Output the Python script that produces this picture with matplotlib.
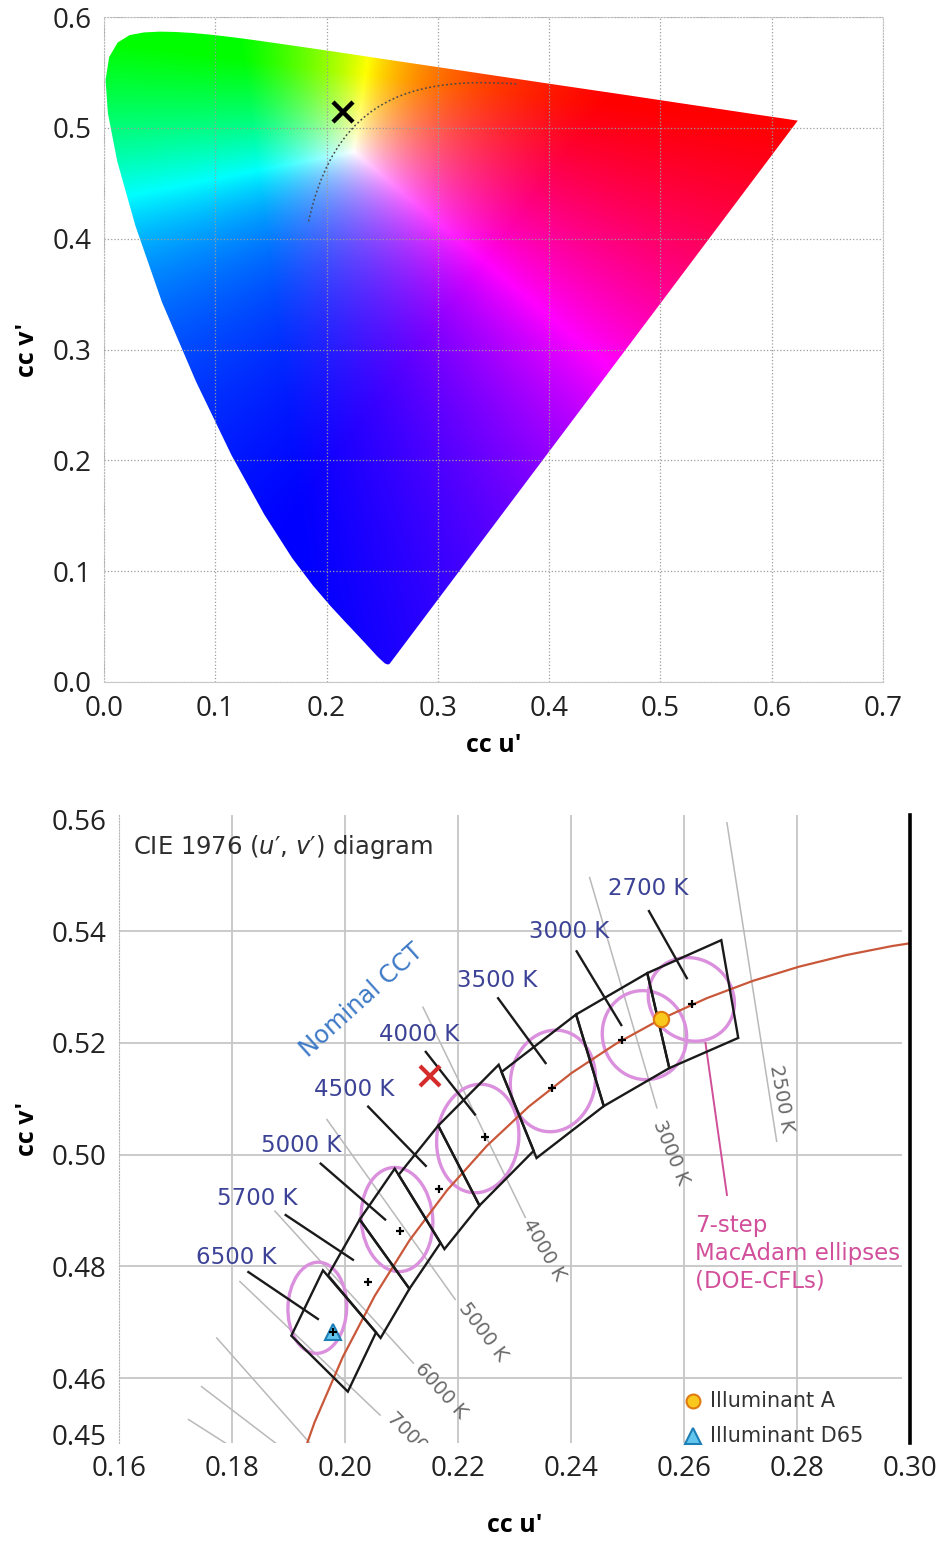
import numpy as np
import matplotlib
matplotlib.use('Agg')
import matplotlib.pyplot as plt
from matplotlib.patches import Polygon, Ellipse

# ---------------- data ----------------
# spectral locus in CIE 1976 u'v' (380 -> 700 nm)
locus_u = [0.2568, 0.2557, 0.2545, 0.2522, 0.2461, 0.2347, 0.2266, 0.2161, 0.2033,
           0.1877, 0.1690, 0.1441, 0.1147, 0.0828, 0.0521, 0.0282, 0.0119, 0.0035,
           0.0014, 0.0046, 0.0123, 0.0231, 0.0360, 0.0501, 0.0643, 0.0792, 0.0953,
           0.1127, 0.1319, 0.1531, 0.1766, 0.2026, 0.2312, 0.2623, 0.2960, 0.3315,
           0.3681, 0.4035, 0.4692, 0.5203, 0.5565, 0.5830, 0.6005, 0.6109, 0.6199, 0.6234]
locus_v = [0.0166, 0.0159, 0.0159, 0.0169, 0.0226, 0.0350, 0.0437, 0.0549, 0.0688,
           0.0871, 0.1119, 0.1510, 0.2044, 0.2708, 0.3427, 0.4117, 0.4698, 0.5131,
           0.5432, 0.5638, 0.5770, 0.5837, 0.5861, 0.5868, 0.5865, 0.5856, 0.5841,
           0.5821, 0.5796, 0.5766, 0.5732, 0.5694, 0.5651, 0.5604, 0.5554, 0.5501,
           0.5446, 0.5393, 0.5296, 0.5219, 0.5165, 0.5125, 0.5099, 0.5084, 0.5070, 0.5065]

# Planckian locus (20000 K -> 1400 K)
planck_u = [0.18388, 0.18494, 0.18611, 0.18740, 0.18880, 0.19032, 0.19462, 0.19962,
            0.20525, 0.21142, 0.21807, 0.22511, 0.23247, 0.24010, 0.24792, 0.25591,
            0.26400, 0.27218, 0.28039, 0.28863, 0.29685, 0.30505, 0.31320, 0.32129,
            0.32931, 0.33724, 0.34514, 0.35800, 0.37230]
planck_v = [0.41564, 0.42032, 0.42513, 0.43002, 0.43496, 0.43989, 0.45212, 0.46382,
            0.47471, 0.48468, 0.49364, 0.50159, 0.50856, 0.51462, 0.51983, 0.52427,
            0.52800, 0.53111, 0.53366, 0.53571, 0.53735, 0.53861, 0.53952, 0.54017,
            0.54057, 0.54077, 0.54064, 0.54030, 0.53960]

sample_u, sample_v = 0.215, 0.514

# ANSI quadrangles (nominal CCT)
cct_names = ['2700 K', '3000 K', '3500 K', '4000 K', '4500 K', '5000 K', '5700 K', '6500 K']
quad_u = [[0.2666, 0.2535, 0.2574, 0.2696],
          [0.2535, 0.2409, 0.2458, 0.2574],
          [0.2409, 0.2277, 0.2339, 0.2458],
          [0.2272, 0.2165, 0.2238, 0.2334],
          [0.2165, 0.2095, 0.2176, 0.2238],
          [0.2088, 0.2026, 0.2114, 0.2169],
          [0.2026, 0.1970, 0.2063, 0.2114],
          [0.1961, 0.1905, 0.2005, 0.2055]]
quad_v = [[0.5384, 0.5325, 0.5155, 0.5209],
          [0.5325, 0.5251, 0.5087, 0.5155],
          [0.5251, 0.5148, 0.4994, 0.5087],
          [0.5161, 0.5052, 0.4909, 0.5007],
          [0.5052, 0.4964, 0.4831, 0.4909],
          [0.4975, 0.4884, 0.4760, 0.4842],
          [0.4884, 0.4784, 0.4672, 0.4760],
          [0.4793, 0.4676, 0.4576, 0.4682]]
nominal_u = [0.2614, 0.2490, 0.2366, 0.2248, 0.2166, 0.2097, 0.2041, 0.1979]
nominal_v = [0.5269, 0.5205, 0.5120, 0.5031, 0.4938, 0.4864, 0.4773, 0.4678]
label_u = [0.2536, 0.2397, 0.2269, 0.2132, 0.2017, 0.1923, 0.1844, 0.1807]
label_v = [0.5476, 0.5400, 0.5312, 0.5216, 0.5116, 0.5016, 0.4922, 0.4816]
leader_u0 = [0.2538, 0.2410, 0.2271, 0.2143, 0.2041, 0.1957, 0.1895, 0.1829]
leader_v0 = [0.5436, 0.5364, 0.5280, 0.5184, 0.5086, 0.4984, 0.4892, 0.4790]
leader_u1 = [0.2605, 0.2489, 0.2355, 0.2230, 0.2143, 0.2071, 0.2014, 0.1952]
leader_v1 = [0.5316, 0.5232, 0.5164, 0.5072, 0.4980, 0.4884, 0.4812, 0.4706]

# 7-step MacAdam ellipses (DOE CFLs): centre, semi axes, angle
ell_u = [0.2613, 0.2530, 0.2368, 0.2235, 0.2092, 0.1951]
ell_v = [0.5278, 0.5214, 0.5132, 0.5029, 0.4884, 0.4726]
ell_a = [0.00790, 0.00800, 0.00913, 0.00974, 0.00934, 0.00816]
ell_b = [0.00720, 0.00743, 0.00749, 0.00725, 0.00633, 0.00520]
ell_ang = [-39.3, 104.8, 80.5, 83.7, 94.3, 88.2]

# isotemperature lines
iso_u0 = [0.2676, 0.2433, 0.2138, 0.1968, 0.1876, 0.1814, 0.1773, 0.1746, 0.1723]
iso_v0 = [0.5594, 0.5496, 0.5264, 0.5063, 0.4899, 0.4773, 0.4672, 0.4585, 0.4526]
iso_u1 = [0.2764, 0.2552, 0.2319, 0.2195, 0.2121, 0.2062, 0.1950, 0.1895, 0.1810]
iso_v1 = [0.5024, 0.5084, 0.4888, 0.4741, 0.4627, 0.4534, 0.4470, 0.4470, 0.4470]
iso_names = ['2500 K', '3000 K', '4000 K', '5000 K', '6000 K', '7000 K']
iso_lab_u = [0.2772, 0.2576, 0.2352, 0.2244, 0.2170, 0.2122]
iso_lab_v = [0.5100, 0.5004, 0.4830, 0.4682, 0.4577, 0.4490]
iso_rot = [-80, -68, -60, -53, -48, -45]

illum_a = (0.2560, 0.5243)
illum_d65 = (0.1978, 0.4683)

# ---------------- figure ----------------
W, H = 942, 1548
fig = plt.figure(figsize=(W / 100, H / 100), dpi=100)
tick_font = ['Open Sans', 'DejaVu Sans']
txt_font = ['DejaVu Sans']

# ---- top: chromaticity diagram ----
ax1 = fig.add_axes([104 / W, 1 - 682 / H, (883 - 104) / W, (682 - 17) / H])
uu, vv = np.meshgrid(np.linspace(0, 0.7, 701), np.linspace(0.0005, 0.6, 601))
den = 6 * uu - 16 * vv + 12
cx = 9 * uu / den
cy = 4 * vv / den
X = cx / cy
Z = (1 - cx - cy) / cy
# XYZ -> linear sRGB, balanced to a slightly warm white, shown without gamma
r = (3.2406 * X - 1.5372 - 0.4986 * Z) / 1.42
g = (-0.9689 * X + 1.8758 + 0.0415 * Z) / 0.89
b = (0.0557 * X - 0.2040 + 1.0570 * Z) / 0.82
rgb = np.clip(np.stack([r, g, b], axis=-1), 0, None)
rgb = rgb / (rgb.max(axis=-1, keepdims=True) + 1e-12)
im = ax1.imshow(np.clip(rgb, 0, 1), extent=[0, 0.7, 0, 0.6], origin='lower',
                aspect='auto', interpolation='bilinear', zorder=0)
gamut = Polygon(np.column_stack([locus_u, locus_v]), closed=True,
                facecolor='none', edgecolor='none', transform=ax1.transData)
ax1.add_patch(gamut)
im.set_clip_path(gamut)

ax1.plot(planck_u, planck_v, color='#4a4a4a', lw=1.1, ls=(0, (1.2, 1.6)), zorder=3)
ax1.plot(sample_u, sample_v, marker='x', ms=15, mew=3.2, color='black', zorder=4)

ax1.set_xlim(0, 0.7)
ax1.set_ylim(0, 0.6)
ax1.set_xticks(np.arange(0, 0.71, 0.1))
ax1.set_yticks(np.arange(0, 0.61, 0.1))
ax1.set_xticklabels(['%.1f' % t for t in np.arange(0, 0.71, 0.1)])
ax1.set_yticklabels(['%.1f' % t for t in np.arange(0, 0.61, 0.1)])
ax1.grid(True, ls=':', color='#9c9c9c', lw=0.9)
for s in ['left', 'top', 'right']:
    ax1.spines[s].set_color('#bcbcbc')
    ax1.spines[s].set_linestyle(':')
ax1.spines['bottom'].set_color('#c8c8c8')
ax1.tick_params(length=0, labelsize=20, pad=9, colors='#222222')
for lab in ax1.get_xticklabels() + ax1.get_yticklabels():
    lab.set_family(tick_font)
ax1.set_xlabel("cc u'", fontsize=18, fontweight='bold', family=tick_font)
ax1.set_ylabel("cc v'", fontsize=18, fontweight='bold', family=tick_font)
ax1.xaxis.set_label_coords(0.5, (682 - 745) / 665)
ax1.xaxis.label.set_va('center')
ax1.yaxis.set_label_coords((28 - 104) / 779, 0.5)
ax1.yaxis.label.set_va('center')

# ---- bottom: CCT quadrangles ----
ax2 = fig.add_axes([119 / W, 1 - 1443 / H, (910 - 119) / W, (1443 - 815) / H])
ylo, yhi = 0.4484, 0.5608
ax2.set_xlim(0.16, 0.30)
ax2.set_ylim(ylo, yhi)
xt = [0.16, 0.18, 0.20, 0.22, 0.24, 0.26, 0.28, 0.30]
yt = [0.45, 0.46, 0.48, 0.50, 0.52, 0.54, 0.56]
ax2.set_xticks(xt)
ax2.set_yticks(yt)
ax2.set_xticklabels(['%.2f' % t for t in xt])
ax2.set_yticklabels(['%.2f' % t for t in yt])
grid_c = '#c6c6c6'
ax2.vlines(xt[1:-1], ylo, yhi, color=grid_c, lw=1.3, zorder=1)
ax2.hlines(yt[1:-1], 0.16, 0.2985, color=grid_c, lw=1.3, zorder=1)
ax2.axvline(0.30, color='black', lw=2.6, clip_on=False, zorder=6)
for s in ['top', 'right', 'bottom']:
    ax2.spines[s].set_visible(False)
ax2.spines['left'].set_color('#b4b4b4')
ax2.spines['left'].set_linestyle(':')
ax2.tick_params(length=0, labelsize=20, pad=9, colors='#222222')
for lab in ax2.get_xticklabels() + ax2.get_yticklabels():
    lab.set_family(tick_font)
ax2.set_xlabel("cc u'", fontsize=18, fontweight='bold', family=tick_font)
ax2.set_ylabel("cc v'", fontsize=18, fontweight='bold', family=tick_font)
ax2.xaxis.set_label_coords(0.5, (1443 - 1525) / 628)
ax2.xaxis.label.set_va('center')
ax2.yaxis.set_label_coords((28 - 119) / 791, 0.5)
ax2.yaxis.label.set_va('center')

# isotemperature lines
for i in range(len(iso_u0)):
    ax2.plot([iso_u0[i], iso_u1[i]], [iso_v0[i], iso_v1[i]], color='#b9b9b9', lw=1.1, zorder=2)
for name, u, v, rot in zip(iso_names, iso_lab_u, iso_lab_v, iso_rot):
    ax2.text(u, v, name, rotation=rot, ha='center', va='center', rotation_mode='anchor',
             fontsize=14, color='#6a6a6a', family=txt_font, clip_on=True, zorder=3)

# Planckian locus
ax2.plot(planck_u, planck_v, color='#c9583a', lw=1.6, zorder=4)

# MacAdam ellipses
for u, v, a, bb, ang in zip(ell_u, ell_v, ell_a, ell_b, ell_ang):
    ax2.add_patch(Ellipse((u, v), 2 * a, 2 * bb, angle=ang, fill=False,
                          ec='#db90de', lw=2.4, zorder=3))

# quadrangles, leaders and labels
for i in range(len(cct_names)):
    ax2.add_patch(Polygon(np.column_stack([quad_u[i], quad_v[i]]), closed=True,
                          fill=False, ec='#1a1a1a', lw=1.7, zorder=5))
    ax2.plot([leader_u0[i], leader_u1[i]], [leader_v0[i], leader_v1[i]],
             color='#1a1a1a', lw=1.7, zorder=5)
    ax2.text(label_u[i], label_v[i], cct_names[i], ha='center', va='center',
             fontsize=16.5, color='#3c4396', family=txt_font, zorder=6)
ax2.plot(nominal_u, nominal_v, ls='none', marker='+', ms=6, mew=1.6, color='black', zorder=7)

# illuminants
ax2.plot(*illum_a, marker='o', ms=11, mfc='#f8c81c', mec='#e07a10', mew=1.5, zorder=8)
ax2.plot(*illum_d65, marker='^', ms=12, mfc='#62c6ee', mec='#1d7fb5', mew=1.5, zorder=8)
ax2.plot(*illum_d65, marker='+', ms=6, mew=1.5, color='black', zorder=9)

# texts
ax2.text(0.1625, 0.5550, "CIE 1976 ($u$\u2032, $v$\u2032) diagram", ha='left', va='center',
         fontsize=17.5, color='#2e2e2e', family=txt_font)
ax2.text(0.2029, 0.5276, 'Nominal CCT', rotation=42, ha='center', va='center',
         rotation_mode='anchor', fontsize=17.5, color='#3d79c6', family=txt_font)
ax2.plot([0.2638, 0.2676], [0.5200, 0.4928], color='#cf4f98', lw=1.4, zorder=4)
ax2.text(0.2619, 0.4824, '7-step\nMacAdam ellipses\n(DOE-CFLs)', ha='left', va='center',
         fontsize=16.5, color='#d2509b', family=txt_font, linespacing=1.25)

# red sample point
ax2.plot(sample_u, sample_v, marker='x', ms=15, mew=3, color='#d42b2b', zorder=9)

# legend
ax2.plot(0.2616, 0.4559, marker='o', ms=10, mfc='#f8c81c', mec='#e07a10', mew=1.5,
         zorder=8, clip_on=False)
ax2.plot(0.2616, 0.4497, marker='^', ms=11, mfc='#62c6ee', mec='#1d7fb5', mew=1.5,
         zorder=8, clip_on=False)
ax2.text(0.2646, 0.4559, 'Illuminant A', ha='left', va='center', fontsize=15,
         color='#333333', family=txt_font)
ax2.text(0.2646, 0.4497, 'Illuminant D65', ha='left', va='center', fontsize=15,
         color='#333333', family=txt_font, clip_on=False)

fig.savefig('out.png', dpi=100, facecolor='white')
